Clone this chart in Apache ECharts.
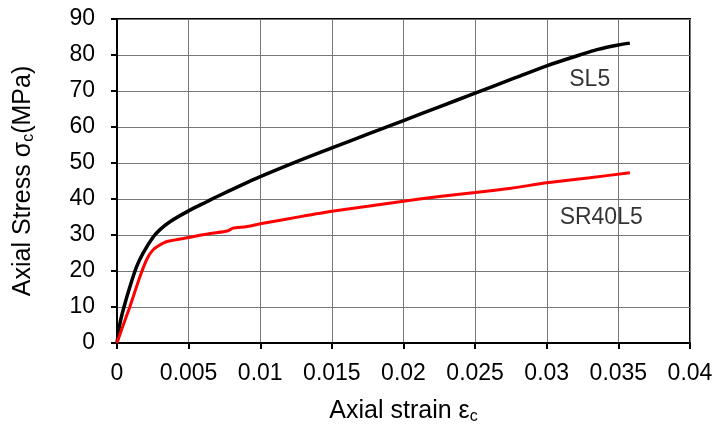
<!DOCTYPE html>
<html>
<head>
<meta charset="utf-8">
<script src="https://cdn.jsdelivr.net/npm/echarts@6/dist/echarts.min.js"></script>
<style>html,body{margin:0;padding:0;background:#fff}#c{width:720px;height:435px}</style>
</head>
<body>
<div id="c"></div>
<script>
const sl5 = [
  [0,0],[0.0002,5.3],[0.00044,9.3],[0.0009,15.6],[0.00137,21.2],[0.00184,25.1],[0.00254,29.5],
  [0.003,31.5],[0.0037,33.7],[0.005,36.7],[0.0063,39.3],[0.007,40.7],[0.0085,43.5],[0.01,46.2],
  [0.0128,50.8],[0.015,54.2],[0.0175,58],[0.02,61.8],[0.0225,65.6],[0.025,69.4],[0.0275,73.2],
  [0.03,77],[0.0323,80],[0.0335,81.5],[0.035,82.8],[0.0358,83.3]
];
const sr40l5 = [
  [0,0],[0.0004,4.6],[0.0009,10.1],[0.0016,18.4],[0.0021,23.4],[0.0025,25.8],[0.0029,27.0],
  [0.0035,28.2],[0.005,29.3],[0.0065,30.4],[0.0077,31.1],[0.0081,31.9],[0.009,32.3],[0.01,33.1],
  [0.0128,35.1],[0.015,36.6],[0.0175,38],[0.02,39.4],[0.0225,40.7],[0.025,41.8],[0.0275,43],
  [0.03,44.5],[0.033,45.9],[0.0358,47.3]
];
const seriesNames = ['SL5','SR40L5'];
const labelPos = [[0.0330,73.1],[0.0338,34.7]];
const xTicks = {min:0, max:0.04, interval:0.005};
const yTicks = {min:0, max:90, interval:10};

const font = '"Liberation Sans", Arial, sans-serif';
const chart = echarts.init(document.getElementById('c'));
chart.setOption({
  animation:false,
  grid:{left:117, right:30, top:19, bottom:92, show:true, borderColor:'#000', borderWidth:2},
  xAxis:{
    type:'value', min:xTicks.min, max:xTicks.max, interval:xTicks.interval,
    axisLine:{show:true, lineStyle:{color:'#000', width:2}},
    axisTick:{show:true, length:6, lineStyle:{color:'#000', width:2}},
    splitLine:{show:true, lineStyle:{color:'#777', width:1}},
    axisLabel:{color:'#000', fontSize:23, fontFamily:font, margin:19},
    name:'{a|Axial strain ε}{s|c}', nameLocation:'middle', nameGap:54,
    nameTextStyle:{rich:{a:{fontSize:25, fontFamily:font, color:'#000'}, s:{fontSize:16, fontFamily:font, color:'#000', padding:[12,0,0,0]}}}
  },
  yAxis:{
    type:'value', min:yTicks.min, max:yTicks.max, interval:yTicks.interval,
    axisLine:{show:true, lineStyle:{color:'#000', width:2}},
    axisTick:{show:true, length:6, lineStyle:{color:'#000', width:2}},
    splitLine:{show:true, lineStyle:{color:'#777', width:1}},
    axisLabel:{color:'#000', fontSize:23, fontFamily:font, margin:22},
    name:'{a|Axial Stress σ}{s|c}{a|(MPa)}', nameLocation:'middle', nameGap:80,
    nameTextStyle:{rich:{a:{fontSize:25, fontFamily:font, color:'#000'}, s:{fontSize:16, fontFamily:font, color:'#000', padding:[12,0,0,0]}}}
  },
  series:[
    {name:seriesNames[0], type:'line', data:sl5, showSymbol:false, smooth:0.3, lineStyle:{color:'#000', width:3.5}},
    {name:seriesNames[1], type:'line', data:sr40l5, showSymbol:false, smooth:0.2, lineStyle:{color:'#ff0000', width:3}},
    {type:'scatter', symbolSize:0, silent:true,
     data:labelPos.map((p,i)=>({value:p, label:{show:true, position:'inside', formatter:seriesNames[i], fontSize:23, fontFamily:font, color:'#000'}}))}
  ]
});
</script>
</body>
</html>
